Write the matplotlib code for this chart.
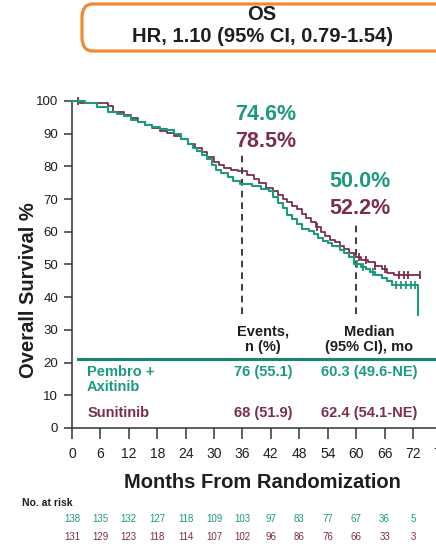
import matplotlib
matplotlib.use('Agg')
import matplotlib.pyplot as plt
import matplotlib.transforms as mtransforms
from matplotlib.patches import FancyBboxPatch

plt.rcParams['font.family'] = ['Liberation Sans', 'DejaVu Sans']

TEAL = '#1c9a80'
PLUM = '#7b2d50'
INK = '#1e1e1e'

# Kaplan-Meier steps (months, survival %)
pembro_t = [0, 2.7, 5.2, 7.6, 9.5, 11, 12.5, 14, 15.5, 17, 18.5, 20, 21.5, 23, 24.5,
            25.5, 26.5, 27.5, 28.5, 29.5, 30.5, 31.5, 33, 34, 35.5, 38, 40, 41.5,
            42.5, 43.5, 44.5, 45.5, 46.5, 47.5, 48.5, 50, 51, 52, 53, 54, 55, 56.5,
            57.5, 58.5, 59.5, 61, 62, 63, 64, 65.5, 66.5, 67.5, 73]
pembro_s = [100, 99.3, 98.2, 96.6, 96.0, 95.3, 94.2, 93.5, 92.8, 92.0, 91.5, 91.0,
            89.9, 88.4, 87.0, 85.5, 84.8, 83.5, 82.3, 80.5, 79.0, 78.1, 76.8, 75.6,
            74.6, 73.9, 73.2, 72.5, 70.6, 68.8, 67.4, 65.2, 63.8, 62.3, 60.9, 60.1,
            59.4, 58.0, 57.2, 56.5, 55.8, 54.3, 53.6, 52.2, 50.0, 49.3, 48.5, 47.7,
            46.9, 46.0, 44.9, 43.8, 34.5]
pembro_cens = [60.2, 61.5, 63.5, 68.5, 69.5, 70.5, 71.5, 72.5]

suni_t = [0, 1.7, 7.6, 8.7, 11, 12.5, 14, 15.5, 17, 18.5, 20, 21.5, 23, 24.5, 26,
          27.5, 28.5, 30, 31, 32, 33.5, 35, 37, 38.5, 39.5, 41, 42.5, 43.5, 44.5,
          45.5, 46.5, 47.5, 48.5, 49.5, 50.5, 51.5, 52.5, 53.5, 54.5, 55.5, 56.5,
          57.5, 58.5, 59.5, 61, 62.5, 64, 65.5, 66.5, 68, 73.5]
suni_s = [100, 99.4, 98.5, 96.6, 95.6, 94.8, 93.6, 92.7, 91.8, 90.8, 90.3, 89.3,
          88.4, 86.9, 85.7, 84.3, 83.0, 81.4, 80.4, 79.6, 79.0, 78.5, 77.3, 76.2,
          74.8, 73.5, 72.4, 71.2, 70.0, 69.0, 68.0, 67.0, 65.3, 64.2, 62.9, 61.6,
          60.0, 58.8, 57.6, 56.8, 55.6, 54.6, 53.5, 52.2, 51.5, 50.7, 49.6, 48.5,
          47.5, 46.7, 46.7]
suni_cens = [1.2, 51.8, 60.5, 62, 64, 66, 69, 70, 71, 73.5]

risk_months = [0, 6, 12, 18, 24, 30, 36, 42, 48, 54, 60, 66, 72, 78]
pembro_risk = [138, 135, 132, 127, 118, 109, 103, 97, 83, 77, 67, 36, 5, 0]
suni_risk = [131, 129, 123, 118, 114, 107, 102, 96, 86, 76, 66, 33, 3, 0]

landmarks = [36, 60]
pembro_marks = ['74.6%', '50.0%']
suni_marks = ['78.5%', '52.2%']


def surv_at(ts, ss, m):
    v = ss[0]
    for t, s in zip(ts, ss):
        if t <= m:
            v = s
    return v


fig = plt.figure(figsize=(4.36, 5.48), dpi=100)
ax = fig.add_axes([0.1651, 0.219, 0.869, 0.5967])
ax.set_xlim(0, 80)
ax.set_ylim(0, 100)

ax.step(suni_t, suni_s, where='post', color=PLUM, lw=1.3, clip_on=False, zorder=3)
ax.step(pembro_t, pembro_s, where='post', color=TEAL, lw=1.5, clip_on=False, zorder=4)
ax.plot(suni_cens, [surv_at(suni_t, suni_s, m) for m in suni_cens], ls='none',
        marker='|', ms=6, mew=1.3, color=PLUM, clip_on=False, zorder=3)
ax.plot(pembro_cens, [surv_at(pembro_t, pembro_s, m) for m in pembro_cens], ls='none',
        marker='|', ms=6, mew=1.3, color=TEAL, clip_on=False, zorder=4)

# landmark dashed lines and percentages
tops = [83.5, 63]
lefts = [34.4, 54.3]
for m, top, left, pm, sm in zip(landmarks, tops, lefts, pembro_marks, suni_marks):
    ax.plot([m, m], [35, top], color=INK, lw=1.2, ls=(0, (4, 3)), zorder=2)
    ax.text(left, top + 12.5, pm, color=TEAL, fontsize=15.5, fontweight='bold',
            ha='left', va='center')
    ax.text(left, top + 4.2, sm, color=PLUM, fontsize=15.5, fontweight='bold',
            ha='left', va='center')

# summary table
tk = dict(fontsize=10.5, fontweight='bold', va='center')
ax.text(40.3, 29.4, 'Events,', color=INK, ha='center', **tk)
ax.text(40.3, 24.8, 'n (%)', color=INK, ha='center', **tk)
ax.text(62.7, 29.4, 'Median', color=INK, ha='center', **tk)
ax.text(62.7, 24.8, '(95% CI), mo', color=INK, ha='center', **tk)
ax.plot([1.2, 90], [21.2, 21.2], color='#17876f', lw=2.2, clip_on=False, zorder=2)
ax.text(3.2, 17.2, 'Pembro +', color=TEAL, ha='left', **tk)
ax.text(3.2, 12.6, 'Axitinib', color=TEAL, ha='left', **tk)
ax.text(40.3, 17.2, '76 (55.1)', color=TEAL, ha='center', **tk)
ax.text(62.7, 17.2, '60.3 (49.6-NE)', color=TEAL, ha='center', **tk)
ax.text(3.2, 4.6, 'Sunitinib', color=PLUM, ha='left', **tk)
ax.text(40.3, 4.6, '68 (51.9)', color=PLUM, ha='center', **tk)
ax.text(62.7, 4.6, '62.4 (54.1-NE)', color=PLUM, ha='center', **tk)

ax.spines['top'].set_visible(False)
ax.spines['right'].set_visible(False)
for s in ['left', 'bottom']:
    ax.spines[s].set_linewidth(1.1)
    ax.spines[s].set_color('#333333')
ax.set_xticks(risk_months)
ax.set_yticks(range(0, 101, 10))
ax.tick_params(axis='x', length=8, width=1.1, pad=6, labelsize=10, colors='#333333',
               labelcolor=INK)
ax.tick_params(axis='y', length=6, width=1.1, pad=4, labelsize=9.5, colors='#333333',
               labelcolor=INK)

fig.text(28 / 436, 1 - 290 / 548, 'Overall Survival %', rotation=90, fontsize=14.5,
         fontweight='bold', ha='center', va='center', color=INK)
fig.text(262 / 436, 1 - 482 / 548, 'Months From Randomization', fontsize=14.5,
         fontweight='bold', ha='center', va='center', color=INK)

# number at risk
fig.text(22 / 436, 1 - 503 / 548, 'No. at risk', fontsize=7.5, fontweight='bold',
         ha='left', va='center', color=INK)
tr = mtransforms.blended_transform_factory(ax.transData, fig.transFigure)
for m, a, b in zip(risk_months, pembro_risk, suni_risk):
    ax.text(m, 1 - 519 / 548, str(a), transform=tr, fontsize=7, color=TEAL,
            ha='center', va='center', clip_on=False)
    ax.text(m, 1 - 537 / 548, str(b), transform=tr, fontsize=7, color=PLUM,
            ha='center', va='center', clip_on=False)

# header box
box = FancyBboxPatch((82 / 436, 1 - 51 / 548), 0.9, 47 / 548,
                     boxstyle='round,pad=0,rounding_size=0.025',
                     transform=fig.transFigure, fill=False, lw=2.3,
                     edgecolor='#f08a32', clip_on=False)
fig.add_artist(box)
fig.text(262 / 436, 1 - 15 / 548, 'OS', fontsize=14.5, fontweight='bold',
         ha='center', va='center', color=INK)
fig.text(262 / 436, 1 - 37 / 548, 'HR, 1.10 (95% CI, 0.79-1.54)', fontsize=14.5,
         fontweight='bold', ha='center', va='center', color=INK)

fig.savefig('out.png', dpi=100)
